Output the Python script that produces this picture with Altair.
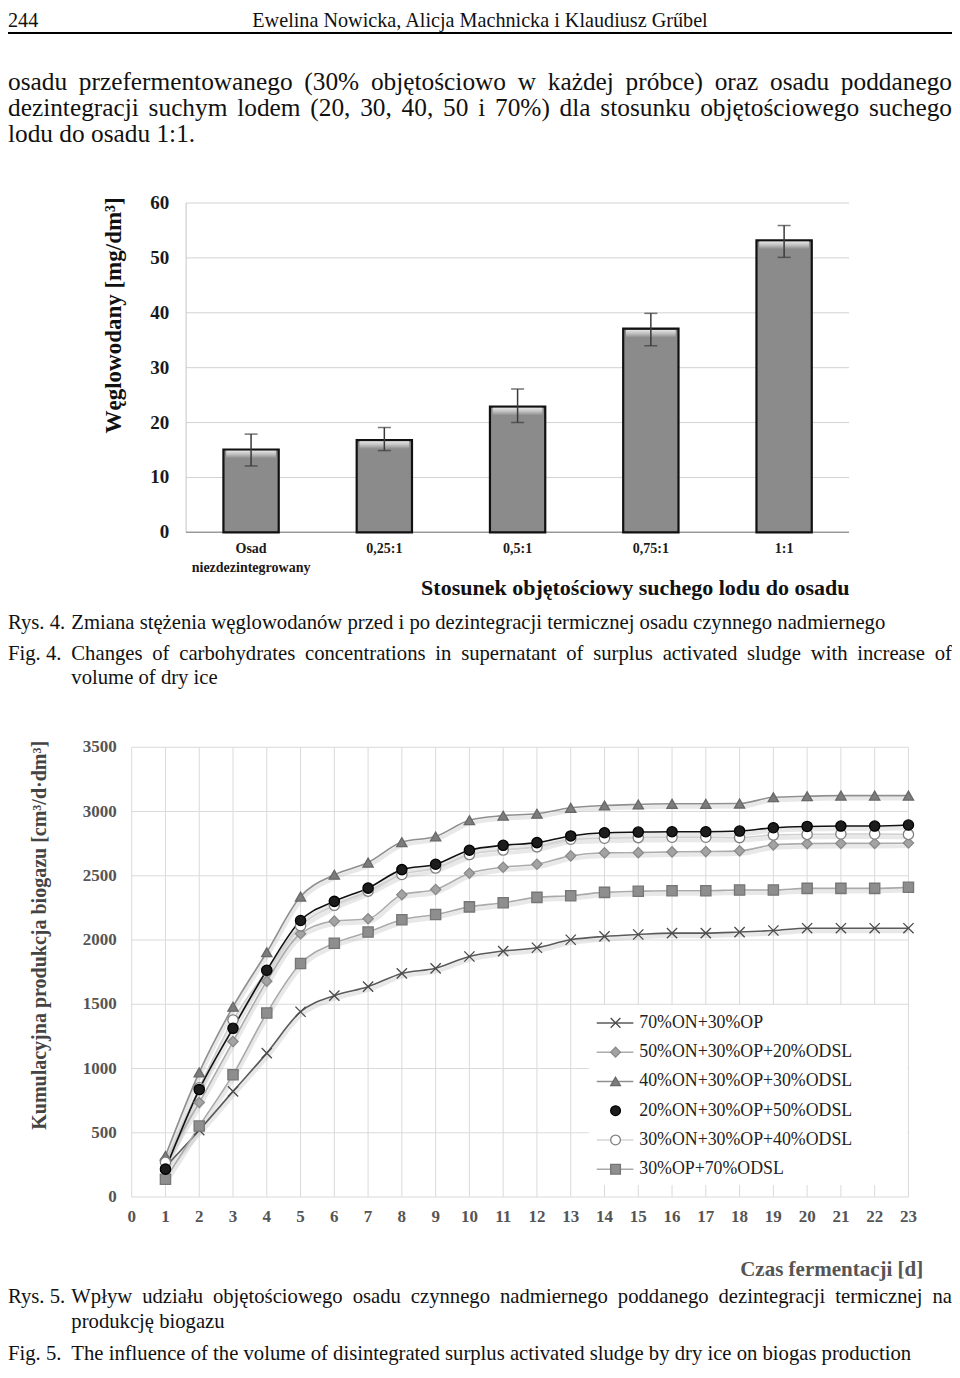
import altair as alt
import pandas as pd

# ---------------- data ----------------
bar_cats = ["Osad niezdezintegrowany", "0,25:1", "0,5:1", "0,75:1", "1:1"]
bar_vals = [15.1, 16.8, 22.9, 37.1, 53.2]
bar_lo = [12.1, 14.9, 20.0, 34.0, 50.1]
bar_hi = [17.9, 19.1, 26.1, 39.9, 55.9]
bar_ticks = [0, 10, 20, 30, 40, 50, 60]

days = list(range(1, 24))
series_names = ["70%ON+30%OP", "50%ON+30%OP+20%ODSL", "40%ON+30%OP+30%ODSL",
                "20%ON+30%OP+50%ODSL", "30%ON+30%OP+40%ODSL", "30%OP+70%ODSL"]
s_70on = [235, 520, 822, 1120, 1442, 1567, 1637, 1740, 1780, 1872, 1914, 1940, 2002,
          2028, 2043, 2054, 2054, 2062, 2074, 2092, 2092, 2092, 2092]
s_50on = [294, 735, 1210, 1680, 2049, 2147, 2165, 2353, 2393, 2520, 2567, 2590, 2655,
          2678, 2680, 2686, 2688, 2694, 2740, 2750, 2752, 2752, 2755]
s_40on = [320, 970, 1481, 1905, 2338, 2508, 2603, 2762, 2806, 2932, 2968, 2983, 3029,
          3047, 3055, 3060, 3060, 3062, 3111, 3119, 3124, 3124, 3124]
s_20on = [217, 836, 1313, 1765, 2152, 2301, 2404, 2548, 2590, 2699, 2737, 2758, 2810,
          2835, 2840, 2843, 2843, 2848, 2874, 2884, 2887, 2887, 2895]
s_30on = [270, 850, 1378, 1760, 2110, 2270, 2380, 2510, 2560, 2665, 2700, 2725, 2784,
          2792, 2797, 2800, 2800, 2797, 2817, 2822, 2825, 2825, 2822]
s_30op = [139, 552, 952, 1432, 1817, 1975, 2062, 2158, 2198, 2258, 2290, 2332, 2345,
          2371, 2379, 2384, 2384, 2389, 2389, 2402, 2402, 2402, 2410]
line_xticks = list(range(0, 24))
line_yticks = [0, 500, 1000, 1500, 2000, 2500, 3000, 3500]

header_num = "244"
header_auth = "Ewelina Nowicka, Alicja Machnicka i Klaudiusz Grűbel"
body_lines = ["osadu przefermentowanego (30% objętościowo w każdej próbce) oraz osadu poddanego",
              "dezintegracji suchym lodem (20, 30, 40, 50 i 70%) dla stosunku objętościowego suchego",
              "lodu do osadu 1:1."]
cap4_pl = ["Rys. 4.", "Zmiana stężenia węglowodanów przed i po dezintegracji termicznej osadu czynnego nadmiernego"]
cap4_en = ["Fig. 4.", "Changes of carbohydrates concentrations in supernatant of surplus activated sludge with increase of",
           "volume of dry ice"]
cap5_pl = ["Rys. 5.", "Wpływ udziału objętościowego osadu czynnego nadmiernego poddanego dezintegracji termicznej na",
           "produkcję biogazu"]
cap5_en = ["Fig. 5.", "The influence of the volume of disintegrated surplus activated sludge by dry ice on biogas production"]
bar_ytitle = "Węglowodany [mg/dm³]"
bar_xtitle = "Stosunek objętościowy suchego lodu do osadu"
line_ytitle = "Kumulacyjna produkcja biogazu [cm³/d·dm³]"
line_xtitle = "Czas fermentacji [d]"

# ---------------- layout helpers ----------------
W, H = 944, 1362
SX, SY = 0.9895, 0.995
FONT = "Liberation Serif"


def X(px):
    return (px - 3) * SX


def Y(py):
    return (py - 3) * SY


_W = {}
for ch, w in zip(' !"#$%&\'()*+,-./', [250, 333, 408, 500, 500, 833, 778, 180, 333, 333, 500, 564, 250, 333, 250, 278]):
    _W[ch] = w
for ch in "0123456789":
    _W[ch] = 500
for ch, w in zip(":;<=>?@", [278, 278, 564, 564, 564, 444, 921]):
    _W[ch] = w
_up = [722, 667, 667, 722, 611, 556, 722, 722, 333, 389, 722, 611, 889, 722, 722, 556, 722, 667, 556, 611, 722, 722, 944, 722, 722, 611]
_lo = [444, 500, 444, 500, 444, 333, 500, 500, 278, 278, 500, 278, 778, 500, 500, 500, 500, 333, 389, 278, 500, 500, 722, 500, 500, 444]
for i, w in enumerate(_up):
    _W[chr(65 + i)] = w
for i, w in enumerate(_lo):
    _W[chr(97 + i)] = w
_W.update({"ą": 444, "ę": 444, "ó": 500, "ś": 389, "ć": 444, "ł": 278, "ż": 444, "ź": 444,
           "ń": 500, "ű": 500, "[": 333, "]": 333})


def tw(s, size):
    return sum(_W.get(c, 500) for c in s) * size / 1000.0


def justified(line, x0, x1, y, size):
    words = line.split(" ")
    ws = [tw(w, size) for w in words]
    gap = (x1 - x0 - sum(ws)) / (len(words) - 1)
    out, x = [], x0
    for w, wd in zip(words, ws):
        out.append({"t": w, "x": x, "y": y, "s": size})
        x += wd + gap
    return out


def page_text(rows, weight="normal", align="left", color="#111111"):
    return alt.Chart(pd.DataFrame(rows)).mark_text(
        font=FONT, fontWeight=weight, align=align, baseline="alphabetic", color=color
    ).encode(
        x=alt.X("x:Q", scale=None, axis=None),
        y=alt.Y("y:Q", scale=None, axis=None),
        text=alt.Text("t:N"),
        size=alt.Size("s:Q", scale=None, legend=None),
    )


def label(text, x, y, size, weight="normal", align="left", color="#111111", angle=0, baseline="alphabetic"):
    return alt.Chart(pd.DataFrame({"t": [text]})).mark_text(
        font=FONT, fontSize=size, fontWeight=weight, align=align, baseline=baseline,
        color=color, angle=angle
    ).encode(x=alt.value(x), y=alt.value(y), text=alt.Text("t:N"))


one = pd.DataFrame({"a": [0]})

# ---------------- page text ----------------
fs_body = 25.6 * SX
fs_cap = 20.9 * SX
fs_head = 20.4 * SX
HEAD_BASE = 18.8
rows = []
rows += justified(body_lines[0], X(3), X(957), Y(85), fs_body)
rows += justified(body_lines[1], X(3), X(957), Y(112), fs_body)
rows.append({"t": body_lines[2], "x": X(3), "y": Y(138), "s": fs_body})
rows.append({"t": header_num, "x": X(3), "y": HEAD_BASE, "s": fs_head})
rows.append({"t": cap4_pl[0], "x": X(3), "y": Y(627), "s": fs_cap})
rows.append({"t": cap4_pl[1], "x": X(67), "y": Y(627), "s": fs_cap})
rows.append({"t": cap4_en[0], "x": X(3), "y": Y(658), "s": fs_cap})
rows += justified(cap4_en[1], X(67), X(957), Y(658), fs_cap)
rows.append({"t": cap4_en[2], "x": X(67), "y": Y(682), "s": fs_cap})
rows.append({"t": cap5_pl[0], "x": X(3), "y": Y(1305), "s": fs_cap})
rows += justified(cap5_pl[1], X(67), X(957), Y(1305), fs_cap)
rows.append({"t": cap5_pl[2], "x": X(67), "y": Y(1330), "s": fs_cap})
rows.append({"t": cap5_en[0], "x": X(3), "y": Y(1362), "s": fs_cap})
rows.append({"t": cap5_en[1], "x": X(67), "y": Y(1362), "s": fs_cap})

txt_main = page_text(rows)
txt_head = label(header_auth, X(480), HEAD_BASE, fs_head, align="center")
head_rule = alt.Chart(one).mark_rule(color="#000000", strokeWidth=2).encode(
    x=alt.value(0), x2=alt.value(W), y=alt.value(HEAD_BASE + 6.2))

# ---------------- bar chart ----------------
bar_df = pd.DataFrame({"cat": bar_cats, "val": bar_vals, "lo": bar_lo, "hi": bar_hi})
bx_scale = alt.Scale(domain=bar_cats, range=[X(183), X(853)], paddingInner=0.585, paddingOuter=0.28)
by_scale = alt.Scale(domain=[0, 60], range=[Y(530), Y(199)], nice=False)
bxe = alt.X("cat:N", sort=bar_cats, scale=bx_scale, axis=None)

bgrid = alt.Chart(pd.DataFrame({"v": bar_ticks[1:]})).mark_rule(color="#d2d2d2", strokeWidth=1).encode(
    y=alt.Y("v:Q", scale=by_scale, axis=None), x=alt.value(X(183)), x2=alt.value(X(853)))
bleft = alt.Chart(pd.DataFrame({"a": [bar_ticks[0]], "b": [bar_ticks[-1]]})).mark_rule(
    color="#c4c4c4", strokeWidth=1).encode(
    y=alt.Y("a:Q", scale=by_scale, axis=None), y2="b:Q", x=alt.value(X(183)))
bbase = alt.Chart(pd.DataFrame({"a": [bar_ticks[0]]})).mark_rule(color="#9a9a9a", strokeWidth=1.5).encode(
    y=alt.Y("a:Q", scale=by_scale, axis=None), x=alt.value(X(183)), x2=alt.value(X(853)))
bars = alt.Chart(bar_df).mark_bar(fill="#8b8b8b", stroke="#111111", strokeWidth=2.2).encode(
    x=bxe, y=alt.Y("val:Q", scale=by_scale, axis=None))
bhl = alt.Chart(bar_df).transform_calculate(t="datum.val - 0.22", b="datum.val - 1.6").mark_bar(
    width=alt.RelativeBandSize(band=0.9),
    fill=alt.Gradient(gradient="linear", x1=0, y1=0, x2=0, y2=1,
                      stops=[alt.GradientStop(offset=0, color="#e4e4e4"),
                             alt.GradientStop(offset=0.45, color="#c2c2c2"),
                             alt.GradientStop(offset=1, color="#8b8b8b")])).encode(
    x=bxe, y=alt.Y("t:Q", scale=by_scale, axis=None), y2="b:Q")
berr = alt.Chart(bar_df).mark_rule(color="#3a3a3a", strokeWidth=1.5).encode(
    x=bxe, y=alt.Y("lo:Q", scale=by_scale, axis=None), y2="hi:Q")
bcap_lo = alt.Chart(bar_df).mark_tick(color="#3a3a3a", thickness=1.5, size=13, orient="horizontal").encode(
    x=bxe, y=alt.Y("lo:Q", scale=by_scale, axis=None))
bcap_hi = alt.Chart(bar_df).mark_tick(color="#3a3a3a", thickness=1.5, size=13, orient="horizontal").encode(
    x=bxe, y=alt.Y("hi:Q", scale=by_scale, axis=None))
b_ylab = alt.Chart(pd.DataFrame({"v": bar_ticks})).mark_text(
    font=FONT, fontSize=19, fontWeight="bold", align="right", baseline="middle", color="#1a1a1a").encode(
    y=alt.Y("v:Q", scale=by_scale, axis=None), x=alt.value(X(166)), text=alt.Text("v:Q", format="d"))
b_xlab = alt.Chart(bar_df).transform_calculate(lab="split(datum.cat, ' ')").mark_text(
    font=FONT, fontSize=14, fontWeight="bold", align="center", baseline="top", lineHeight=19,
    color="#1a1a1a").encode(x=bxe, y=alt.value(Y(540)), text="lab:N")

bar_group = alt.layer(bgrid, bleft, bbase, bars, bhl, berr, bcap_lo, bcap_hi, b_ylab, b_xlab)

bar_t1 = label(bar_ytitle, X(110), Y(312), 23, weight="bold", align="center", angle=270, baseline="middle")
bar_t2 = label(bar_xtitle, X(637), Y(593), 22, weight="bold", align="center")

# ---------------- line chart ----------------
series_vals = [s_70on, s_50on, s_40on, s_20on, s_30on, s_30op]
draw_order = [0, 1, 5, 2, 4, 3]
recs = []
for k in draw_order:
    for d, v in zip(days, series_vals[k]):
        recs.append({"series": series_names[k], "day": d, "val": v})
line_df = pd.DataFrame(recs)

lx_scale = alt.Scale(domain=[line_xticks[0], line_xticks[-1]], range=[X(128), X(913)], nice=False, zero=False)
ly_scale = alt.Scale(domain=[line_yticks[0], line_yticks[-1]], range=[Y(1198), Y(746)], nice=False)

line_colors = ["#5a5a5a", "#acacac", "#8f8f8f", "#111111", "#cfcfcf", "#a9a9a9"]
legend_line_colors = ["#5a5a5a", "#acacac", "#8f8f8f", "#ffffff", "#d6d6d6", "#a9a9a9"]
X_PATH = "M-1,-1L1,1M-1,1L1,-1"
pt_shapes = [X_PATH, "diamond", "triangle-up", "circle", "circle", "square"]
pt_fill = ["#555555", "#a3a3a3", "#7c7c7c", "#1c1c1c", "#ffffff", "#8e8e8e"]
pt_stroke = ["#4a4a4a", "#8a8a8a", "#686868", "#000000", "#808080", "#767676"]

shape_enc = alt.Shape("series:N", scale=alt.Scale(domain=series_names, range=pt_shapes), legend=None)
fill_enc = alt.Fill("series:N", scale=alt.Scale(domain=series_names, range=pt_fill), legend=None)
stroke_enc = alt.Stroke("series:N", scale=alt.Scale(domain=series_names, range=pt_stroke), legend=None)

vgrid = alt.Chart(pd.DataFrame({"d": line_xticks, "y0": line_yticks[0], "y1": line_yticks[-1]})).mark_rule(
    color="#dadada", strokeWidth=1).encode(
    x=alt.X("d:Q", scale=lx_scale, axis=None),
    y=alt.Y("y0:Q", scale=ly_scale, axis=None), y2="y1:Q")
hgrid = alt.Chart(pd.DataFrame({"v": line_yticks, "x0": line_xticks[0], "x1": line_xticks[-1]})).mark_rule(
    color="#dadada", strokeWidth=1).encode(
    y=alt.Y("v:Q", scale=ly_scale, axis=None),
    x=alt.X("x0:Q", scale=lx_scale, axis=None), x2="x1:Q")
l_xlab = alt.Chart(pd.DataFrame({"d": line_xticks})).mark_text(
    font=FONT, fontSize=17, fontWeight="bold", align="center", baseline="middle", color="#555555").encode(
    x=alt.X("d:Q", scale=lx_scale, axis=None), y=alt.value(Y(1218)), text=alt.Text("d:Q", format="d"))
l_ylab = alt.Chart(pd.DataFrame({"v": line_yticks})).mark_text(
    font=FONT, fontSize=17, fontWeight="bold", align="right", baseline="middle", color="#555555").encode(
    y=alt.Y("v:Q", scale=ly_scale, axis=None), x=alt.value(X(113)), text=alt.Text("v:Q", format="d"))

lx = alt.X("day:Q", scale=lx_scale, axis=None)
ly = alt.Y("val:Q", scale=ly_scale, axis=None)
shadow = alt.Chart(line_df).mark_line(interpolate="monotone", strokeWidth=4, yOffset=3, xOffset=1,
                                      color="#bdbdbd", opacity=0.35).encode(
    x=lx, y=ly, detail="series:N")
lines = alt.Chart(line_df).mark_line(interpolate="monotone", strokeWidth=1.6).encode(
    x=lx, y=ly,
    color=alt.Color("series:N", scale=alt.Scale(domain=series_names, range=line_colors), legend=None))
pts = alt.Chart(line_df).mark_point(filled=True, size=105, strokeWidth=1.3, opacity=1).encode(
    x=lx, y=ly, shape=shape_enc, fill=fill_enc, stroke=stroke_enc)

line_group = alt.layer(vgrid, hgrid, l_xlab, l_ylab, shadow, lines, pts)

# legend
leg_df = pd.DataFrame({"series": series_names})
leg_y = alt.Y("series:N", scale=alt.Scale(type="point", domain=series_names, range=[Y(1023), Y(1170)], padding=0),
              axis=None)
leg_box = alt.Chart(one).mark_rect(fill="#ffffff").encode(
    x=alt.value(X(590)), x2=alt.value(X(912)), y=alt.value(Y(1005)), y2=alt.value(Y(1186)))
leg_lines = alt.Chart(leg_df).mark_rule(strokeWidth=1.5).encode(
    x=alt.value(X(598)), x2=alt.value(X(635)), y=leg_y,
    color=alt.Color("series:N", scale=alt.Scale(domain=series_names, range=legend_line_colors), legend=None))
leg_pts = alt.Chart(leg_df).mark_point(filled=True, size=95, strokeWidth=1.3, opacity=1).encode(
    x=alt.value(X(617)), y=leg_y, shape=shape_enc, fill=fill_enc, stroke=stroke_enc)
leg_txt = alt.Chart(leg_df).mark_text(font=FONT, fontSize=18 * SX, align="left", baseline="middle",
                                      color="#222222").encode(
    x=alt.value(X(641)), y=leg_y, text="series:N")
legend_group = alt.layer(leg_box, leg_lines, leg_pts, leg_txt)

line_t1 = label(line_ytitle, X(35), Y(935), 20, weight="bold", align="center", angle=270,
                baseline="middle", color="#444444")
line_t2 = label(line_xtitle, X(928), Y(1277), 21, weight="bold", align="right", color="#555555")

chart = alt.layer(
    txt_main, txt_head, head_rule,
    bar_group, bar_t1, bar_t2,
    line_group, legend_group, line_t1, line_t2,
).resolve_scale(
    x="independent", y="independent", color="independent", fill="independent",
    stroke="independent", shape="independent", size="independent"
).properties(
    width=W, height=H, padding=0, autosize=alt.AutoSizeParams(type="none"), background="#ffffff"
).configure_view(stroke=None)

chart.save("out.html", embed_options={"renderer": "svg", "actions": False})
